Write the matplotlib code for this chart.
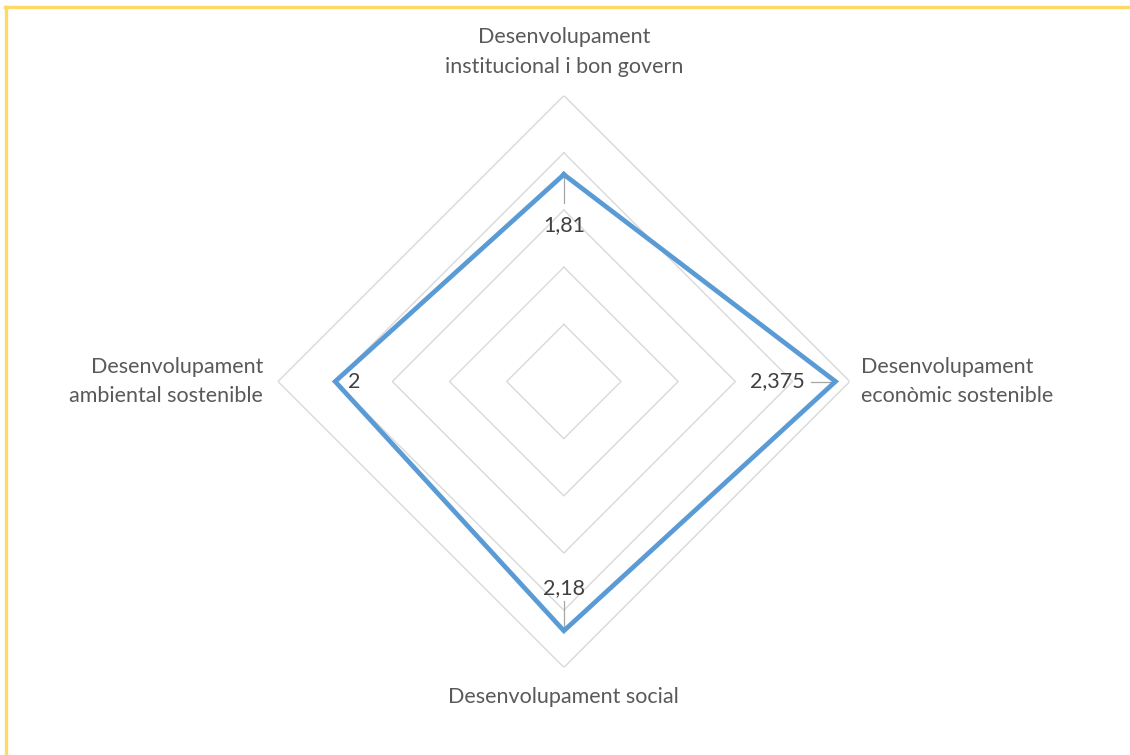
import numpy as np
import matplotlib.pyplot as plt
from matplotlib.lines import Line2D

# dades
categories = ['Desenvolupament\ninstitucional i bon govern',
              'Desenvolupament\neconòmic sostenible',
              'Desenvolupament social',
              'Desenvolupament\nambiental sostenible']
values = [1.81, 2.375, 2.18, 2.0]
value_labels = ['1,81', '2,375', '2,18', '2']
ring_levels = [0.5, 1.0, 1.5, 2.0, 2.5]

plt.rcParams['font.family'] = ['Lato', 'DejaVu Sans']

fig = plt.figure(figsize=(11.3, 7.55), dpi=100)
ax = fig.add_axes([0.246, 0.1159, 0.506, 0.7576], projection='polar')
ax.set_theta_offset(np.pi / 2)
ax.set_theta_direction(-1)
ax.set_ylim(0, 2.5)
ax.grid(False)
ax.spines['polar'].set_visible(False)
ax.set_xticks([])
ax.set_yticks([])
ax.patch.set_alpha(0)

n = len(categories)
angles = np.linspace(0, 2 * np.pi, n, endpoint=False)
closed = np.append(angles, angles[0])

# anells de la quadrícula (rombes)
for lvl in ring_levels:
    ax.plot(closed, [lvl] * (n + 1), color='#d9d9d9', lw=1.0, zorder=1)

# sèrie
ax.plot(closed, values + values[:1], color='#5b9bd5', lw=3.4, zorder=3,
        solid_joinstyle='miter')

# etiquetes de dades
label_r = [1.37, 1.87, 1.81, 1.83]
leader_end = [1.56, 2.16, 1.92, None]
for a, v, txt, lr, le in zip(angles, values, value_labels, label_r, leader_end):
    if le is not None:
        ax.plot([a, a], [v, le], color='#a6a6a6', lw=0.9, zorder=2)
    ax.text(a, lr, txt, ha='center', va='center', fontsize=15.5,
            color='#404040', zorder=4)

# etiquetes de categories
cat_r = [2.88, 2.60, 2.76, 2.63]
cat_ha = ['center', 'left', 'center', 'right']
for a, cat, r, ha in zip(angles, categories, cat_r, cat_ha):
    ax.text(a, r, cat, ha=ha, va='center', fontsize=15.5, color='#595959',
            linespacing=1.6, multialignment='center' if ha == 'center' else ha)

# vora groga del requadre
gold = '#ffd966'
fig.add_artist(Line2D([6 / 1130, 6 / 1130], [0, 1 - 6.5 / 755],
                      transform=fig.transFigure, color=gold, lw=2.4))
fig.add_artist(Line2D([5 / 1130, 1], [1 - 6.5 / 755, 1 - 6.5 / 755],
                      transform=fig.transFigure, color=gold, lw=2.4))

fig.savefig('out.png', dpi=100)
